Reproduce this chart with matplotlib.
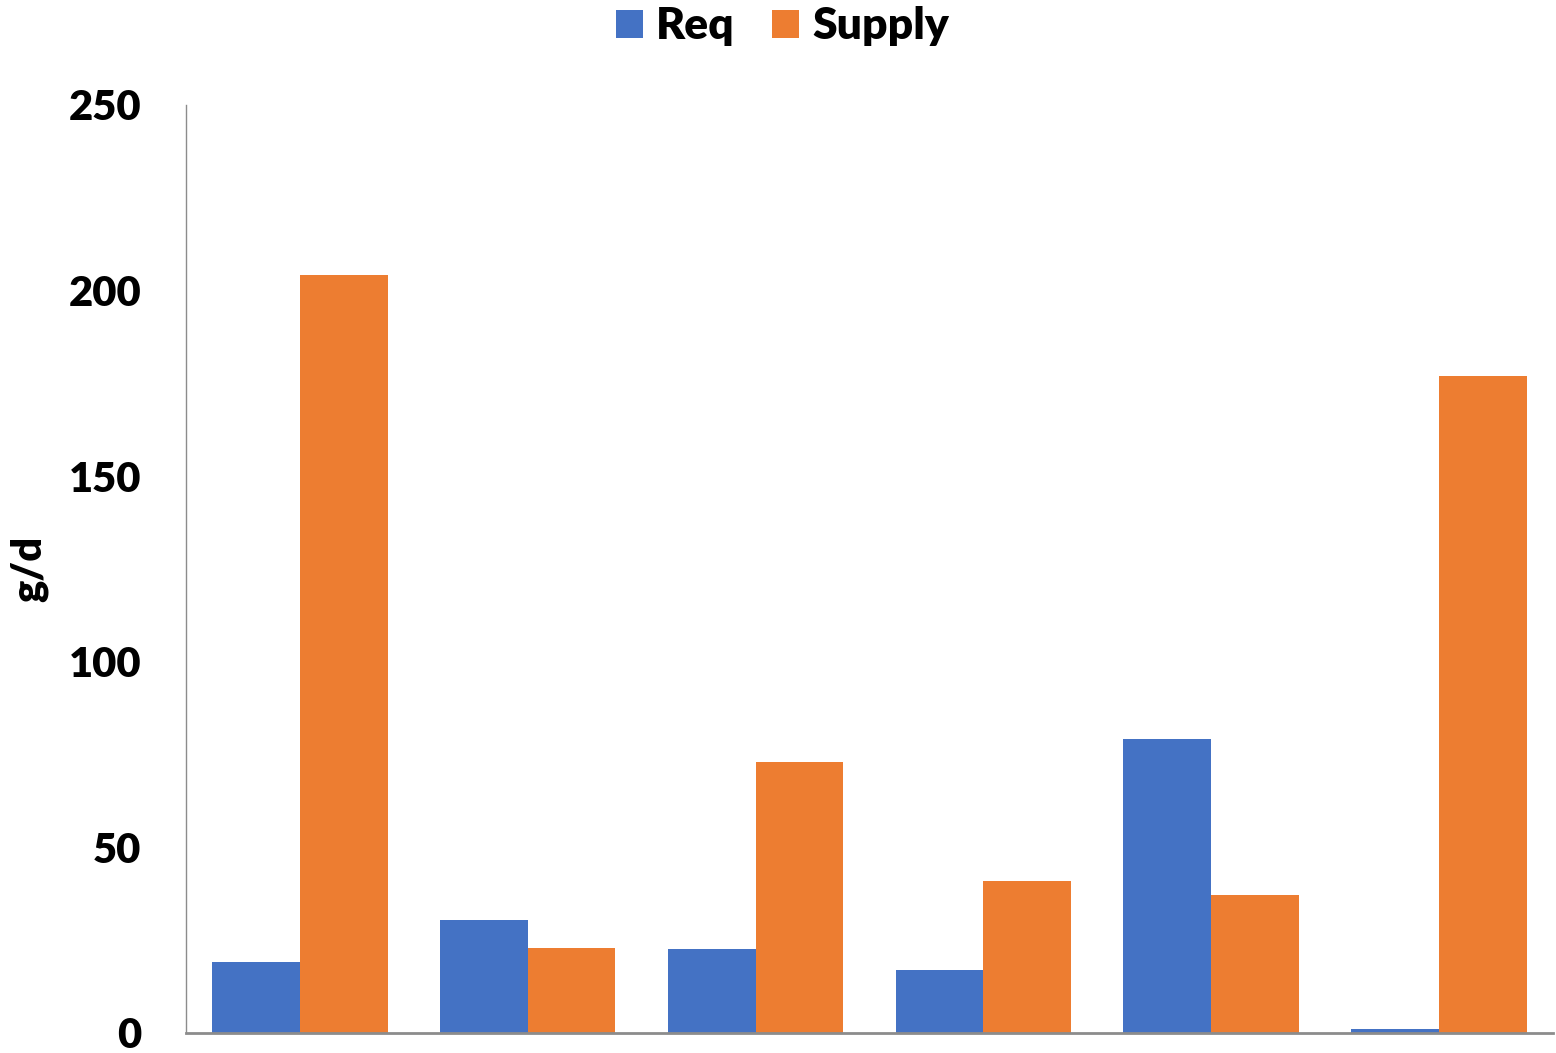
import matplotlib.pyplot as plt
import numpy as np

# values (g/d)
categories = ['1', '2', '3', '4', '5', '6']
req = [19.1, 30.4, 22.6, 17.0, 79.2, 1.1]
supply = [204.2, 22.9, 73.0, 40.9, 37.2, 177.0]
yticks = [0, 50, 100, 150, 200, 250]

plt.rcParams['font.family'] = ['Lato', 'DejaVu Sans']

fig = plt.figure(figsize=(15.56, 10.53), dpi=100)
ax = fig.add_axes([0.1195, 0.019, 0.8785, 0.8813])

x = np.arange(len(categories))
w = 0.385
ax.bar(x - w / 2, req, w, color='#4472C4', label='Req')
ax.bar(x + w / 2, supply, w, color='#ED7D31', label='Supply')

ax.set_xlim(-0.5, len(categories) - 0.5)
ax.set_ylim(0, 250)
ax.set_yticks(yticks)
ax.set_yticklabels([str(t) for t in yticks], fontsize=30, fontweight='heavy')
ax.set_xticks([])
ax.tick_params(axis='y', length=0, pad=32)

ax.spines['top'].set_visible(False)
ax.spines['right'].set_visible(False)
ax.spines['left'].set_color('#8c8c8c')
ax.spines['left'].set_linewidth(1.0)
ax.spines['bottom'].set_color('#8c8c8c')
ax.spines['bottom'].set_linewidth(2.0)

ax.set_ylabel('g/d', fontsize=30, fontweight='heavy')
ax.yaxis.set_label_coords(-0.101, 0.50)

leg = fig.legend(loc='upper center', bbox_to_anchor=(0.503, 1.032), ncol=2,
                 frameon=False, prop={'size': 32, 'weight': 'heavy'},
                 handlelength=0.6, handleheight=0.6, handletextpad=0.3,
                 columnspacing=0.85)

fig.savefig('out.png', dpi=100)
